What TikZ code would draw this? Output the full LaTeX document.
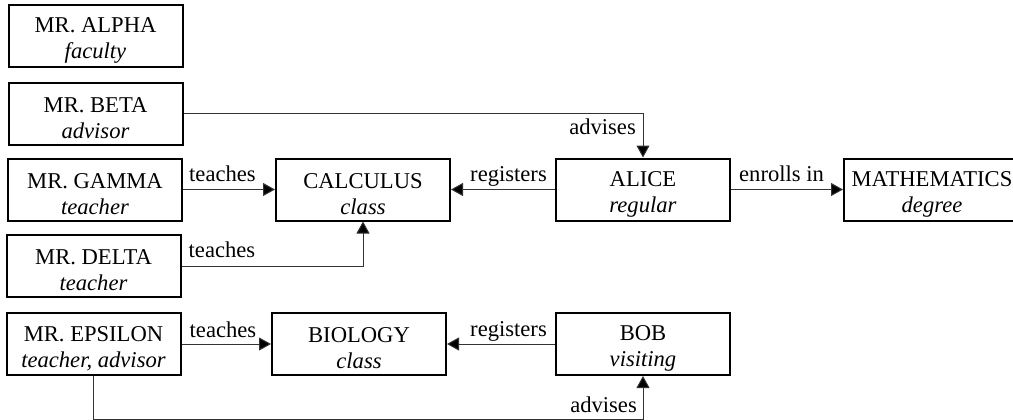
\documentclass[tikz,border=0pt]{standalone}
\usepackage{fontspec}
\setmainfont{Liberation Serif}
\usetikzlibrary{arrows.meta,calc}
\begin{document}
\begin{tikzpicture}[x=1pt,y=-1pt,
  ent/.style={draw=black, line width=2pt, minimum width=174pt, minimum height=62pt,
    inner sep=0pt},
  txt/.style={inner sep=0pt, align=center, yshift=-4.5pt, font=\fontsize{22.6}{26}\selectfont},
  conn/.style={line width=1pt, draw=black!80,
    -{Triangle[length=12pt,width=13pt,fill=black]}},
  lab/.style={font=\fontsize{22.6}{26}\selectfont, inner sep=0pt}]
\useasboundingbox (0,0) rectangle (1013,420);
\node[ent, label={[txt]center:{MR. ALPHA\\\textit{faculty}}}] (alpha) at (95.5,36) {};
\node[ent, label={[txt]center:{MR. BETA\\\textit{advisor}}}] (beta) at (95.5,114) {};
\node[ent, label={[txt]center:{MR. GAMMA\\\textit{teacher}}}] (gamma) at (95,189.5) {};
\node[ent, label={[txt]center:{MR. DELTA\\\textit{teacher}}}] (delta) at (93.5,266) {};
\node[ent, label={[txt]center:{MR. EPSILON\\\textit{teacher, advisor}}}] (eps) at (93.5,344) {};
\node[ent, label={[txt]center:{CALCULUS\\\textit{class}}}] (calc) at (363,189.5) {};
\node[ent, label={[txt]center:{ALICE\\\textit{regular}}}] (alice) at (643,189.5) {};
\node[ent, minimum width=176pt, label={[txt]center:{MATHEMATICS\\\textit{degree}}}] (math) at (932,189.5) {};
\node[ent, label={[txt]center:{BIOLOGY\\\textit{class}}}] (bio) at (359,344) {};
\node[ent, label={[txt]center:{BOB\\\textit{visiting}}}] (bob) at (643,344) {};
% connectors
\draw[conn] (gamma) -- (calc);
\draw[conn] (delta.east) -| (calc.south);
\draw[conn] (alice) -- (calc);
\draw[conn] (alice) -- (math);
\draw[conn] (beta.east) -| (alice.north);
\draw[conn] (eps) -- (bio);
\draw[conn] (bob) -- (bio);
\draw[conn] (eps.south) -- ++(0,43) -| (bob.south);
% labels
\node[lab, anchor=base west] (l1) at ($(gamma.east)+(6,-8)$) {teaches};
\node[lab, anchor=base west] (l2) at ($(delta.east)+(7,-9)$) {teaches};
\node[lab, anchor=base west] (l3) at ($(eps.east)+(8,-7)$) {teaches};
\node[lab, anchor=base east] (l4) at ($(alice.west)+(-8,-8)$) {registers};
\node[lab, anchor=base west] (l5) at ($(alice.east)+(8,-8)$) {enrolls in};
\node[lab, anchor=base east] (l6) at (636,135) {advises};
\node[lab, anchor=base east] (l7) at ($(bob.west)+(-8,-8)$) {registers};
\node[lab, anchor=base east] (l8) at (637,412) {advises};
\end{tikzpicture}
\end{document}
